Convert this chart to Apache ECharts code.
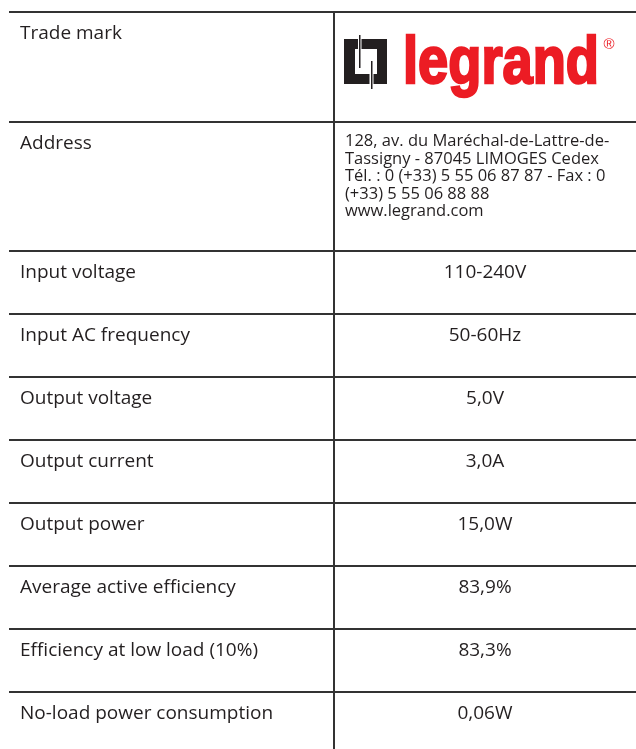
<!DOCTYPE html>
<html>
<head>
<meta charset="utf-8" />
<script src="https://cdn.jsdelivr.net/npm/echarts@6/dist/echarts.min.js"></script>
<title>legrand</title>
<style>
  html, body { margin: 0; padding: 0; background: #fff; }
</style>
</head>
<body>
<div id="main" style="width:636px; height:749px"></div>
<script type="text/javascript">
// table content
var labels = ['Trade mark', 'Address', 'Input voltage', 'Input AC frequency', 'Output voltage',
  'Output current', 'Output power', 'Average active efficiency', 'Efficiency at low load (10%)',
  'No-load power consumption'];
var values = ['legrand',
  '128, av. du Maréchal-de-Lattre-de-\nTassigny - 87045 LIMOGES Cedex\nTél. : 0 (+33) 5 55 06 87 87 - Fax : 0\n(+33) 5 55 06 88 88\nwww.legrand.com',
  '110-240V', '50-60Hz', '5,0V', '3,0A', '15,0W', '83,9%', '83,3%', '0,06W'];

// layout (px units of the axes)
var rowHeights = [110, 129, 63, 63, 63, 63, 63, 63, 63, 57];
var TOTAL_W = 627, SPLIT = 325, TOTAL_H = 737;
var rowTops = [];
var acc = 0;
for (var i = 0; i < rowHeights.length; i++) { rowTops.push(acc); acc += rowHeights[i]; }

var ink = '#231f20';
var red = '#ec1c24';
var font = '"Open Sans", sans-serif';

// measure logo word so it can be squeezed to the printed width
var ctx = document.createElement('canvas').getContext('2d');
ctx.font = 'bold 67px "Liberation Sans"';
var logoScale = 196 / ctx.measureText('legrand').width;

function logo(x0, y0) {
  var sx = x0 + 10, sy = y0 + 27;
  var rects = [
    [0, 0, 14, 10], [0, 0, 11, 45], [15, -4, 1.5, 33], [17.5, 0, 25.5, 10],
    [33, 0, 10, 45], [0, 35, 25.5, 10], [27, 22, 1.5, 28], [29.5, 35, 13.5, 10]
  ];
  var kids = rects.map(function (r) {
    return { type: 'rect', shape: { x: sx + r[0], y: sy + r[1], width: r[2], height: r[3] }, style: { fill: ink } };
  });
  kids.push({
    type: 'group', x: x0 + 69, y: y0 + 86, scaleX: logoScale,
    children: [{ type: 'text', style: { x: 0, y: 0, text: 'legrand', fill: red,
      stroke: red, lineWidth: 2.5, lineJoin: 'round',
      font: 'bold 67px "Liberation Sans"', verticalAlign: 'bottom' } }]
  });
  kids.push({ type: 'text', style: { x: x0 + 275, y: y0 + 33, text: '®', fill: red,
    font: '15px "Liberation Sans"', align: 'center', verticalAlign: 'middle' } });
  return kids;
}

var myChart = echarts.init(document.getElementById('main'));
myChart.setOption({
  backgroundColor: '#fff',
  animation: false,
  grid: { left: 9, right: 0, top: 12, bottom: 0 },
  xAxis: { type: 'value', min: 0, max: TOTAL_W, show: false },
  yAxis: { type: 'value', min: 0, max: TOTAL_H, inverse: true, show: false },
  series: [{
    type: 'custom',
    clip: false,
    data: labels.map(function (l, i) { return [i, rowTops[i], rowTops[i] + rowHeights[i]]; }),
    encode: { x: 0, y: [1, 2] },
    renderItem: function (params, api) {
      var i = api.value(0);
      var top = api.value(1), bottom = api.value(2);
      var tl = api.coord([0, top]);
      var tr = api.coord([TOTAL_W, top]);
      var mt = api.coord([SPLIT, top]);
      var mb = api.coord([SPLIT, bottom]);
      var kids = [
        { type: 'line', shape: { x1: tl[0], y1: tl[1], x2: tr[0], y2: tr[1] }, style: { stroke: '#333', lineWidth: 2 } },
        { type: 'line', shape: { x1: mt[0], y1: mt[1], x2: mb[0], y2: mb[1] }, style: { stroke: '#333', lineWidth: 2 } },
        { type: 'text', style: { x: tl[0] + 11, y: tl[1] + 22, text: labels[i], fill: ink,
          font: '19px ' + font, verticalAlign: 'middle' } }
      ];
      if (i === 0) {
        kids = kids.concat(logo(mt[0], mt[1]));
      } else if (i === 1) {
        kids.push({ type: 'text', style: { x: mt[0] + 11, y: mt[1] + 11, text: values[i], fill: ink,
          font: '16.5px ' + font, lineHeight: 17.5, verticalAlign: 'top' } });
      } else {
        kids.push({ type: 'text', style: { x: (mt[0] + tr[0]) / 2, y: tl[1] + 22, text: values[i], fill: ink,
          font: '19px ' + font, align: 'center', verticalAlign: 'middle' } });
      }
      return { type: 'group', children: kids };
    }
  }]
});
</script>
</body>
</html>
